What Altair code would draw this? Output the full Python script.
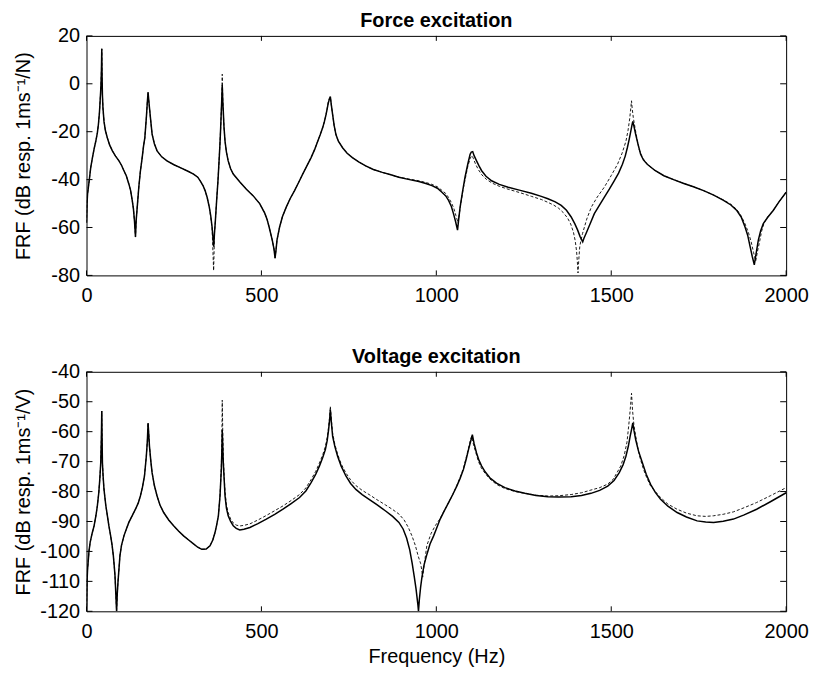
import altair as alt
import pandas as pd

FONT = "Liberation Sans"
W, H = 704, 241

x_ticks = [0, 500, 1000, 1500, 2000]
force_y_ticks = [-80, -60, -40, -20, 0, 20]
volt_y_ticks = [-120, -110, -100, -90, -80, -70, -60, -50, -40]

# (frequency Hz, dB) pairs
force_solid = [(0, -58), (1.5, -50), (3, -46), (7.6, -40.5), (12, -35), (17, -30.8), (22, -27), (26.5, -24),
               (31, -20.5), (34, -17), (37, -12), (38.8, -7.4), (40.5, -3), (41.7, 0.9), (42.7, 6), (43.6, 14.6),
               (44.5, 3), (45.5, -4.7), (47, -10), (50, -15.7), (54, -19.5), (59.7, -22.6), (66, -25.5), (74, -28),
               (83, -30.2), (92.8, -32.2), (100, -34), (107, -36.3), (114, -38.5), (121, -41.8), (126, -44.5),
               (130.7, -48.7), (134, -52), (137, -57), (140, -64), (142, -57), (145, -51.5), (149.6, -43),
               (154, -36.5), (159, -31), (163, -26), (166.7, -22.6), (171, -14.3), (174, -7.4), (176, -3.6),
               (178, -7), (180, -10), (184, -16), (187.5, -21), (194, -25), (201.7, -28), (215, -30.5), (230, -32.2),
               (250, -33.8), (268, -35), (290, -36.5), (306, -37.7), (318, -39), (325, -40.5), (333, -42.5),
               (339, -44.6), (345, -47.5), (351, -51.5), (355, -55), (359, -59.8), (363.6, -68), (366, -62),
               (368, -58), (372, -48.7), (376, -40), (379, -32), (381.5, -25), (383.5, -18.4), (386.4, -7.4),
               (388, -0.5), (389.5, -7), (391, -11.5), (393, -18), (396, -24), (400, -28.5), (405, -32.2),
               (412, -35.5), (419.5, -37.7), (438.4, -41), (457, -44), (476, -46.7), (495, -50), (509.5, -54),
               (516, -56.5), (522, -59.8), (531, -65.3), (536, -69), (539, -72.8), (542, -69), (544.5, -65.3),
               (552, -59.8), (560, -55.5), (571, -51.5), (582, -48), (594.7, -44.6), (606, -41.3), (618, -37.7),
               (630, -34.3), (642, -30.8), (652, -27.5), (661, -24), (668, -21.3), (675, -18.4), (680, -15.8),
               (684.7, -12.9), (688, -10.5), (691, -8.1), (694, -6.5), (697, -5.3), (700, -9), (703.6, -12.9),
               (708, -17.5), (713, -21.2), (720, -24), (732, -26.7), (745, -29), (760, -30.8), (778, -32.6),
               (798, -34.3), (820, -35.8), (845.6, -37), (870, -38), (893, -39), (920, -39.9), (950, -40.8),
               (970, -41.6), (987.5, -42.5), (1003, -43.6), (1016, -45.3), (1027, -46.8), (1035, -48.7),
               (1043, -51.2), (1049, -54.2), (1055, -57.5), (1060.6, -61.1), (1064, -56.5), (1068, -51.5),
               (1075, -45), (1082, -39), (1090, -33.5), (1096.6, -29.4), (1100, -28.5), (1104, -28.3), (1108, -30),
               (1115, -32.2), (1122, -34.3), (1129.6, -36.3), (1142, -38.6), (1158, -40.5), (1180, -42),
               (1205.4, -43.2), (1240, -44.5), (1271.6, -45.7), (1300, -47), (1319, -48), (1340, -49.3),
               (1357, -50.8), (1372, -52.8), (1385.5, -55.6), (1396, -58.5), (1404, -61.1), (1411, -63.8),
               (1418.5, -66), (1422, -64.5), (1428, -62.5), (1440, -58.3), (1451.7, -54.2), (1466, -50.8),
               (1480, -47.4), (1495, -43.9), (1508.5, -40.5), (1521, -37.3), (1532, -33.6), (1540, -30.2),
               (1546, -26.7), (1551, -23.4), (1556, -19.8), (1559, -17.5), (1561.6, -15.7), (1565, -17.8),
               (1570, -21.2), (1577, -25.5), (1584, -29.4), (1592, -31.8), (1603, -33.6), (1625, -36.2),
               (1650.6, -38.4), (1680, -40.1), (1707.5, -41.6), (1735, -43), (1764, -44.6), (1793, -46.5),
               (1821, -48.7), (1842, -50.6), (1859, -52.9), (1872, -55.8), (1882.5, -59.8), (1890, -63.2),
               (1897, -68), (1903, -72), (1909, -75.6), (1914, -71), (1920.5, -65.3), (1927, -61.5),
               (1934.7, -58.4), (1948, -55.6), (1963, -52.9), (1980, -49.2), (2000, -45.3)]

force_dashed = [(0, -58), (1.5, -50), (3, -46), (7.6, -40.5), (12, -35), (17, -30.8), (22, -27), (26.5, -24),
                (31, -20.5), (34, -17), (37, -12), (38.8, -7.4), (40.5, -3), (41.7, 0.9), (42.7, 6), (43.6, 14.6),
                (44.5, 3), (45.5, -4.7), (47, -10), (50, -15.7), (54, -19.5), (59.7, -22.6), (66, -25.5), (74, -28),
                (83, -30.2), (92.8, -32.2), (100, -34), (107, -36.3), (114, -38.5), (121, -41.8), (126, -44.5),
                (130.7, -48.7), (134, -52), (137, -57), (140, -64), (142, -57), (145, -51.5), (149.6, -43),
                (154, -36.5), (159, -31), (163, -26), (166.7, -22.6), (171, -14.3), (174, -7.4), (176, -3.6),
                (178, -7), (180, -10), (184, -16), (187.5, -21), (194, -25), (201.7, -28), (215, -30.5),
                (230, -32.2), (250, -33.8), (268, -35), (290, -36.5), (306, -37.7), (318, -39), (325, -40.5),
                (333, -42.5), (339, -44.6), (345, -47.5), (351, -51.5), (355, -55.5), (359, -60.5), (363.4, -78),
                (366, -62), (368, -58), (372, -48.7), (376, -40), (379, -32), (381.5, -25), (383.5, -18.4),
                (386.4, -7), (387.2, -2), (388, 4), (389.5, -6), (391, -11.5), (393, -18), (396, -24), (400, -28.5),
                (405, -32.2), (412, -35.5), (419.5, -37.7), (438.4, -41), (457, -44), (476, -46.7), (495, -50),
                (509.5, -54), (516, -56.5), (522, -59.8), (531, -65.3), (536, -69), (539, -72.8), (542, -69),
                (544.5, -65.3), (552, -59.8), (560, -55.5), (571, -51.5), (582, -48), (594.7, -44.6),
                (606, -41.3), (618, -37.7), (630, -34.3), (642, -30.8), (652, -27.5), (661, -24), (668, -21.3),
                (675, -18.4), (680, -15.8), (684.7, -12.9), (688, -10.3), (691, -7.8), (694, -6.2), (697, -5.5),
                (700, -9), (703.6, -12.9), (708, -17.5), (713, -21.2), (720, -24), (732, -26.7), (745, -29),
                (760, -30.8), (778, -32.6), (798, -34.3), (820, -35.8), (845.6, -37), (870, -38), (893, -39),
                (920, -39.7), (950, -40.5), (970, -41.2), (987.5, -42), (1003, -43), (1016, -44.5), (1027, -45.8),
                (1035, -47.5), (1043, -49.6), (1050, -52), (1056, -55), (1062, -58), (1066, -54), (1070, -50),
                (1076, -44.5), (1083, -39.5), (1090, -34.5), (1097, -31), (1102, -30), (1106, -31.2),
                (1112, -33.5), (1120, -35.8), (1130, -38), (1144, -40), (1160, -41.5), (1180, -42.8), (1205, -44),
                (1240, -45.5), (1272, -47), (1300, -48.3), (1319, -49.5), (1335, -50.6), (1350, -52),
                (1363, -53.8), (1375, -56), (1384, -58.5), (1392, -62), (1397, -65.5), (1401, -70), (1403, -74),
                (1405, -79), (1407, -74), (1410, -68), (1414, -65), (1418, -62.5), (1430, -56.5), (1443, -51.5),
                (1460, -47.3), (1480, -43.2), (1500, -38.3), (1518, -33.6), (1531, -29), (1542, -24),
                (1548, -19.5), (1553, -14.3), (1556, -10), (1558, -7.1), (1560, -10.5), (1563, -14),
                (1568, -18.4), (1574, -23.2), (1580, -27.5), (1590, -31), (1603, -33.6), (1625, -36.2),
                (1650.6, -38.4), (1680, -40.1), (1707.5, -41.6), (1735, -43), (1764, -44.6), (1793, -46.5),
                (1821, -48.5), (1842, -50.3), (1859, -52.5), (1872, -55.3), (1882.5, -58.5), (1892, -62),
                (1900, -66), (1907, -70.5), (1913, -74), (1918, -70), (1924, -66), (1930, -61.5), (1937, -58),
                (1948, -55.4), (1963, -52.9), (1980, -49.2), (2000, -45.3)]

volt_solid = [(0, -120), (1.5, -110), (3, -106), (4.7, -103.6), (7, -100), (10.4, -97), (16, -94), (21.8, -91.4),
              (27, -88), (31, -84.8), (35, -80.5), (37.9, -76), (40.7, -70.4), (42.5, -62), (43.6, -53.1),
              (44.5, -62), (45.5, -70.4), (47.5, -75), (50, -79.3), (55, -84.5), (59.7, -88.1), (64, -91.5),
              (69, -94.8), (73, -97.8), (76.7, -101.4), (79, -104.5), (81.4, -108), (84, -114.7), (86, -120),
              (88, -114), (90, -110.2), (95.6, -101.4), (100, -98), (107, -94.8), (114, -92.5), (121, -90.3),
              (130, -88.2), (140, -85.9), (148, -83.8), (154, -81.5), (160, -78.5), (165.7, -74.8), (171, -68.2),
              (174, -63), (176, -57.1), (178, -61), (180, -64.9), (184, -70), (187.5, -73.7), (194, -78),
              (201.7, -81.5), (210, -84.5), (220.6, -87), (235, -89.5), (249, -91.4), (263, -93.2), (277.5, -94.8),
              (292, -96.2), (305.9, -97.5), (318, -98.6), (329.5, -99.3), (342, -99.2), (353, -98.1),
              (361, -96.2), (367.4, -93.7), (372, -91.2), (377, -88.1), (381.6, -81.5), (385.4, -72.6),
              (387, -66), (388, -59.4), (389.5, -65), (391, -70.4), (393.5, -76), (396, -81.5), (400, -85.5),
              (405, -88.1), (412, -90), (419.5, -91.4), (428, -92.3), (438, -92.8), (450, -92.6), (467, -92),
              (490, -90.7), (514, -89.2), (538, -87.6), (561.6, -85.9), (585, -84), (609, -82), (627, -79.8),
              (642, -77), (655, -74.3), (665.7, -71.5), (675, -68.7), (682.8, -66), (688, -63), (692, -59.4),
              (695, -56), (697, -52.7), (700, -57), (703.6, -61.6), (710, -65), (717.8, -68.2), (728, -71.5),
              (741.5, -74.8), (755, -77.3), (770, -79.3), (788, -81), (807.8, -82.6), (830, -84.4), (855, -86.5),
              (875, -88.3), (893, -90.3), (905, -92.5), (915, -95.5), (924, -99.5), (931, -104), (937, -108.5),
              (942, -112.5), (945, -115.5), (947.5, -118), (949, -120), (951.5, -116), (955, -112),
              (959, -108.5), (965, -104.5), (973, -101), (982, -97.5), (992.3, -94.8), (1000, -92.5),
              (1011, -89.2), (1023, -86.4), (1035, -83.7), (1047, -81), (1058.5, -78.2), (1068, -75.6),
              (1077.6, -72.6), (1085, -69.4), (1092, -66), (1098, -63.3), (1103, -61), (1108, -64),
              (1115, -67.1), (1122, -69.6), (1129.6, -71.5), (1140, -73.5), (1153, -75.4), (1172, -77.2),
              (1196, -78.7), (1225, -79.8), (1253, -80.6), (1285, -81.3), (1319, -81.7), (1350, -81.8),
              (1385.5, -81.7), (1415, -81.3), (1442, -80.6), (1467, -79.6), (1490, -78.2), (1508, -76.3),
              (1523, -73.7), (1534, -71), (1542, -68.2), (1549, -64.8), (1554, -61.6), (1558, -59.3),
              (1561.6, -57.1), (1565, -59.6), (1570, -62.7), (1578, -66.5), (1589, -70.4), (1600, -74.2),
              (1612.5, -77.6), (1626, -80.3), (1641, -82.6), (1662, -84.9), (1688.4, -87), (1715, -88.5),
              (1745.5, -89.8), (1770, -90.2), (1792.6, -90.3), (1820, -89.9), (1849.5, -89.2), (1880, -87.8),
              (1915.7, -85.9), (1955, -83.4), (2000, -80.4)]

volt_dashed = [(0, -120), (1.5, -110), (3, -106), (4.7, -103.6), (7, -100), (10.4, -97), (16, -94), (21.8, -91.4),
               (27, -88), (31, -84.8), (35, -80.5), (37.9, -76), (40.7, -70.4), (42.5, -62), (43.6, -53.1),
               (44.5, -62), (45.5, -70.4), (47.5, -75), (50, -79.3), (55, -84.5), (59.7, -88.1), (64, -91.5),
               (69, -94.8), (73, -97.8), (76.7, -101.4), (79, -104.5), (81.4, -108), (84, -114.7), (86, -120),
               (88, -114), (90, -110.2), (95.6, -101.4), (100, -98), (107, -94.8), (114, -92.5), (121, -90.3),
               (130, -88.2), (140, -85.9), (148, -83.8), (154, -81.5), (160, -78.5), (165.7, -74.8), (171, -68.2),
               (174, -63), (176, -57.1), (178, -61), (180, -64.9), (184, -70), (187.5, -73.7), (194, -78),
               (201.7, -81.5), (210, -84.5), (220.6, -87), (235, -89.5), (249, -91.4), (263, -93.2),
               (277.5, -94.8), (292, -96.2), (305.9, -97.5), (318, -98.6), (329.5, -99.3), (342, -99.2),
               (353, -98.1), (361, -96.2), (367.4, -93.7), (372, -91.2), (377, -88.1), (381.6, -81.5),
               (385.4, -72), (387, -62), (388, -49.5), (389.5, -60), (391, -68), (393.5, -75), (396, -80),
               (400, -84.5), (405, -87), (412, -89.2), (419.5, -90.5), (428, -91.2), (438, -91.5), (450, -91.3),
               (467, -90.8), (490, -89.5), (514, -88), (538, -86.4), (561.6, -84.8), (585, -83), (609, -81),
               (627, -78.8), (642, -76), (655, -73.3), (665.7, -70.5), (675, -67.8), (682.8, -65), (688, -62),
               (692, -58.5), (695, -55), (697, -51.5), (700, -56), (703.6, -60.5), (710, -64.3), (717.8, -67.5),
               (728, -70.8), (741.5, -73.8), (755, -76.1), (770, -78), (788, -79.6), (807.8, -81), (830, -82.7),
               (855, -84.5), (875, -86), (893, -87.5), (908, -89.5), (920, -92), (931, -95), (940, -98),
               (948, -101.5), (955, -104), (958, -106), (961, -108.6), (964, -105.5), (967, -103), (973, -98),
               (985, -94), (997, -91.4), (1011, -89), (1023, -86.3), (1035, -83.7), (1047, -81), (1058.5, -78),
               (1068, -75.3), (1077.6, -72.2), (1085, -68.8), (1092, -65.5), (1097, -63), (1101, -61.5),
               (1106, -64.2), (1113, -67), (1120, -69.8), (1128, -72), (1140, -74), (1153, -75.8), (1172, -77.6),
               (1196, -79), (1225, -80), (1253, -80.6), (1285, -81.2), (1319, -81.5), (1350, -81.4),
               (1385.5, -81), (1415, -80.4), (1442, -79.5), (1467, -78.7), (1490, -77.5), (1505, -76),
               (1515, -74), (1527, -71.5), (1537, -68), (1545, -63.5), (1550, -58), (1554, -53), (1558, -47.2),
               (1561, -53), (1565, -58), (1570, -61.5), (1575, -65), (1583, -69), (1592, -72.5), (1602, -75.5),
               (1612, -78), (1626, -80), (1641, -82), (1662, -84.2), (1688, -85.9), (1715, -87.2), (1745, -88.1),
               (1770, -88.3), (1792, -88.1), (1820, -87.6), (1849, -86.8), (1880, -85.4), (1915, -83.7),
               (1955, -81.4), (2000, -78.7)]


def frame(pairs):
    return pd.DataFrame(pairs, columns=["f", "db"])


def panel(title, solid_pts, dashed_pts, ydom, yticks, ytitle, xtitle):
    solid = frame(solid_pts)
    dashed = frame(dashed_pts)
    xt = pd.DataFrame({"f": x_ticks})
    yt = pd.DataFrame({"db": yticks})
    xs = alt.Scale(domain=[0, 2000], nice=False, zero=False)
    ys = alt.Scale(domain=ydom, nice=False, zero=False)
    xax = alt.Axis(values=x_ticks, ticks=False, tickSize=0, domain=False, grid=False,
                   labelPadding=10, titlePadding=6, labelExpr="toString(datum.value)",
                   labelFlush=False, labelOverlap=False)
    yax = alt.Axis(values=yticks, ticks=False, tickSize=0, domain=False, grid=False,
                   labelPadding=7, labelExpr="toString(datum.value)", labelFlush=False, labelOverlap=False,
                   titleX=-63.5, titleY=H / 2, titleBaseline="middle", titleAlign="center")
    if xtitle:
        x_enc = alt.X("f:Q", scale=xs, axis=xax, title=xtitle)
    else:
        x_enc = alt.X("f:Q", scale=xs, axis=xax, title=None)
    y_enc = alt.Y("db:Q", scale=ys, axis=yax, title=ytitle)
    s = alt.Chart(solid).mark_line(color="black", strokeWidth=1.5, clip=True).encode(x=x_enc, y=y_enc)
    d = alt.Chart(dashed).mark_line(color="black", strokeWidth=0.9, strokeDash=[3, 2], clip=True).encode(
        x=x_enc, y=y_enc)
    xb = alt.Chart(xt).mark_rule(color="black", strokeWidth=1).encode(
        x=x_enc, y=alt.value(H), y2=alt.value(H - 5))
    xtop = alt.Chart(xt).mark_rule(color="black", strokeWidth=1).encode(
        x=x_enc, y=alt.value(0), y2=alt.value(5))
    yl = alt.Chart(yt).mark_rule(color="black", strokeWidth=1).encode(
        y=y_enc, x=alt.value(0), x2=alt.value(6))
    yr = alt.Chart(yt).mark_rule(color="black", strokeWidth=1).encode(
        y=y_enc, x=alt.value(W), x2=alt.value(W - 6))
    ttl = alt.Chart(pd.DataFrame({"t": [title]})).mark_text(
        font=FONT, fontSize=20, fontWeight="bold", color="black",
        align="center", baseline="top").encode(
        x=alt.value(W / 2), y=alt.value(-25), text="t:N")
    return alt.layer(s, d, xb, xtop, yl, yr, ttl).properties(width=W, height=H)


top = panel("Force excitation", force_solid, force_dashed,
            [-80, 20], force_y_ticks, "FRF (dB resp. 1ms\u207b\u00b9/N)", None)
bottom = panel("Voltage excitation", volt_solid, volt_dashed,
               [-120, -40], volt_y_ticks, "FRF (dB resp. 1ms\u207b\u00b9/V)", "Frequency (Hz)")

chart = alt.vconcat(top, bottom, spacing=40).properties(
    padding={"left": 4, "top": 0, "right": 0, "bottom": 0}
).configure_view(
    stroke="black", strokeWidth=1
).configure_axis(
    labelFont=FONT, titleFont=FONT, labelFontSize=20, titleFontSize=20,
    labelColor="black", titleColor="black", titleFontWeight="normal", labelOverlap=False
)

chart.save("out.html", embed_options={"renderer": "svg", "actions": False})
